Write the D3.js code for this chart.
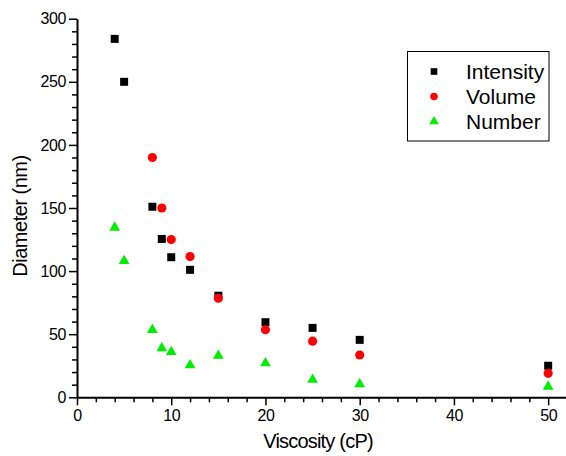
<!DOCTYPE html>
<html><head><meta charset="utf-8">
<script src="https://cdn.jsdelivr.net/npm/d3@7"></script>
<style>body{margin:0;background:#fff}svg{display:block}text{font-family:"Liberation Sans",Arial,sans-serif}</style>
</head><body><svg id="c" width="566" height="456"></svg>
<script>
const viscosity = [4, 5, 8, 9, 10, 12, 15, 20, 25, 30, 50];
const intensity = [284, 250, 151, 125.5, 111, 101, 80.5, 59.5, 55, 45.5, 25];
const volumeX = [8, 9, 10, 12, 15, 20, 25, 30, 50];
const volume = [190, 150, 125, 111.5, 78.5, 53.5, 44.5, 33.5, 19];
const number = [134.5, 108, 53.5, 39, 36, 25.5, 33, 27, 14, 10.5, 8.5];
const seriesNames = ["Intensity", "Volume", "Number"];
const xTicks = [0, 10, 20, 30, 40, 50];
const yTicks = [0, 50, 100, 150, 200, 250, 300];

const svg = d3.select("#c");
const x = d3.scaleLinear().domain([0, 52]).range([77, 567]);
const y = d3.scaleLinear().domain([0, 300]).range([397.3, 18.7]);

const g = svg.append("g");
const xMinor = d3.range(0, 53, 2).filter(v => v % 10 !== 0);
const yMinor = d3.range(0, 301, 10).filter(v => v % 50 !== 0);
g.append("g").attr("transform", `translate(0,${y(0)})`)
  .call(d3.axisBottom(x).tickValues(xMinor).tickSize(5).tickFormat(""))
  .call(a => a.select(".domain").remove())
  .call(a => a.selectAll("line").attr("stroke-width", 1.5));
g.append("g").attr("transform", `translate(${x(0)},0)`)
  .call(d3.axisLeft(y).tickValues(yMinor).tickSize(5).tickFormat(""))
  .call(a => a.select(".domain").remove())
  .call(a => a.selectAll("line").attr("stroke-width", 1.5));
const xa = g.append("g").attr("transform", `translate(0,${y(0)})`)
  .call(d3.axisBottom(x).tickValues(xTicks).tickSize(8).tickSizeOuter(0).tickPadding(4));
const ya = g.append("g").attr("transform", `translate(${x(0)},0)`)
  .call(d3.axisLeft(y).tickValues(yTicks).tickSize(8).tickSizeOuter(0).tickPadding(3));
[xa, ya].forEach(a => {
  a.select(".domain").attr("stroke-width", 2);
  a.selectAll("line").attr("stroke-width", 1.5);
  a.selectAll("text").attr("font-size", 16).attr("fill", "#000")
    .style("font-family", '"Liberation Sans", Arial, sans-serif').style("letter-spacing", "-0.4px");
});

svg.append("text").attr("x", 318).attr("y", 448).attr("text-anchor", "middle")
  .attr("font-size", 20).style("letter-spacing", "-0.8px").text("Viscosity (cP)");
svg.append("text").attr("transform", "translate(27,216) rotate(-90)").attr("text-anchor", "middle")
  .attr("font-size", 20).style("letter-spacing", "-0.5px").text("Diameter (nm)");

const sq = d3.symbol().type(d3.symbolSquare).size(64);
const ci = d3.symbol().type(d3.symbolCircle).size(66);
const tr = d3.symbol().type(d3.symbolTriangle).size(50);

const pts = svg.append("g");
pts.selectAll(".n").data(viscosity.map((v, i) => [v, number[i]])).join("path")
  .attr("d", tr).attr("fill", "#00ee00").attr("transform", d => `translate(${x(d[0])},${y(d[1])})`);
pts.selectAll(".i").data(viscosity.map((v, i) => [v, intensity[i]])).join("path")
  .attr("d", sq).attr("fill", "#000").attr("transform", d => `translate(${x(d[0])},${y(d[1])})`);
pts.selectAll(".v").data(volumeX.map((v, i) => [v, volume[i]])).join("path")
  .attr("d", ci).attr("fill", "#ff0000").attr("transform", d => `translate(${x(d[0])},${y(d[1])})`);

const lg = svg.append("g");
lg.append("rect").attr("x", 407.5).attr("y", 51.5).attr("width", 141.5).attr("height", 89.5)
  .attr("fill", "#fff").attr("stroke", "#000").attr("stroke-width", 1);
const legendColors = ["#000", "#ff0000", "#00ee00"];
const legendTypes = [d3.symbolSquare, d3.symbolCircle, d3.symbolTriangle];
seriesNames.forEach((name, i) => {
  const yy = 71.5 + i * 25;
  lg.append("path").attr("d", d3.symbol().type(legendTypes[i]).size(i === 2 ? 40 : 44))
    .attr("fill", legendColors[i]).attr("transform", `translate(434,${yy})`);
  lg.append("text").attr("x", 466).attr("y", yy + 7.5).attr("font-size", 21).text(name);
});
</script></body></html>
